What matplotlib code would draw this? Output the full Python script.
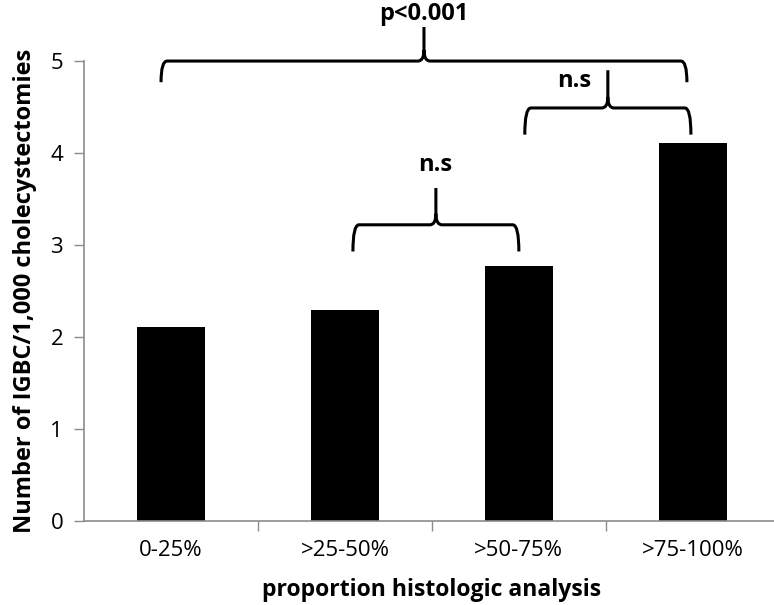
import matplotlib
matplotlib.use("Agg")
import matplotlib.pyplot as plt
from matplotlib.path import Path
from matplotlib.patches import PathPatch

# data
categories = ["0-25%", ">25-50%", ">50-75%", ">75-100%"]
values = [2.11, 2.29, 2.77, 4.11]

# comparisons: left x, right x, brace level, label
cmp_left = [-0.057, 2.034, 1.046]
cmp_right = [2.966, 2.989, 2.0]
cmp_level = [5.0, 4.49, 3.22]
cmp_labels = ["p<0.001", "n.s", "n.s"]

# brace / label layout
cmp_drop = [0.23, 0.29, 0.29]
cmp_rise = [0.37, 0.41, 0.40]
label_x = [1.455, 2.32, 1.52]
label_y = [5.51, 4.78, 3.87]

plt.rcParams["font.family"] = ["Open Sans", "DejaVu Sans"]


def brace(ax, x0, x1, y, drop, rise, w=0.035):
    # curly brace with the tip pointing up
    xc = (x0 + x1) / 2.0
    yb = y - drop
    yt = y + rise
    verts = [
        (x0, yb), (x0, y), (x0 + w, y),
        (xc - w, y), (xc, y), (xc, y + 0.12),
        (xc, yt),
        (xc, y + 0.12), (xc, y), (xc + w, y),
        (x1 - w, y), (x1, y), (x1, yb),
    ]
    codes = [Path.MOVETO, Path.CURVE3, Path.CURVE3,
             Path.LINETO, Path.CURVE3, Path.CURVE3,
             Path.LINETO,
             Path.MOVETO, Path.CURVE3, Path.CURVE3,
             Path.LINETO, Path.CURVE3, Path.CURVE3]
    patch = PathPatch(Path(verts, codes), fill=False, lw=2.2, color="black",
                      clip_on=False, capstyle="butt", joinstyle="round")
    ax.add_patch(patch)


fig = plt.figure(figsize=(7.74, 6.05), dpi=100)
ax = fig.add_axes([0.1085, 0.1388, 0.899, 0.7603])

x = list(range(len(categories)))
ax.bar(x, values, width=0.39, color="black")

ax.set_xlim(-0.5, 3.5)
ax.set_ylim(0, 5)
ax.set_yticks([0, 1, 2, 3, 4, 5])
ax.set_xticks(x)
ax.set_xticklabels(categories)
ax.set_xticks([0.5, 1.5, 2.5], minor=True)
ax.tick_params(axis="x", which="major", length=0, pad=14, labelsize=16)
ax.tick_params(axis="x", which="minor", length=7, color="#8c8c8c", width=1)
ax.tick_params(axis="y", length=7, color="#8c8c8c", width=1, pad=8, labelsize=16)

for s in ["top", "right"]:
    ax.spines[s].set_visible(False)
for s in ["left", "bottom"]:
    ax.spines[s].set_color("#8c8c8c")
    ax.spines[s].set_linewidth(1.2)

ax.set_xlabel("proportion histologic analysis", fontsize=16.6, fontweight="bold", labelpad=12)
ax.set_ylabel("Number of IGBC/1,000 cholecystectomies", fontsize=17, fontweight="bold", labelpad=10)

for i in range(len(cmp_labels)):
    brace(ax, cmp_left[i], cmp_right[i], cmp_level[i], cmp_drop[i], cmp_rise[i])
    ax.text(label_x[i], label_y[i], cmp_labels[i], ha="center", va="center",
            fontsize=17, fontweight="bold", clip_on=False)

fig.savefig("out.png", dpi=100)
